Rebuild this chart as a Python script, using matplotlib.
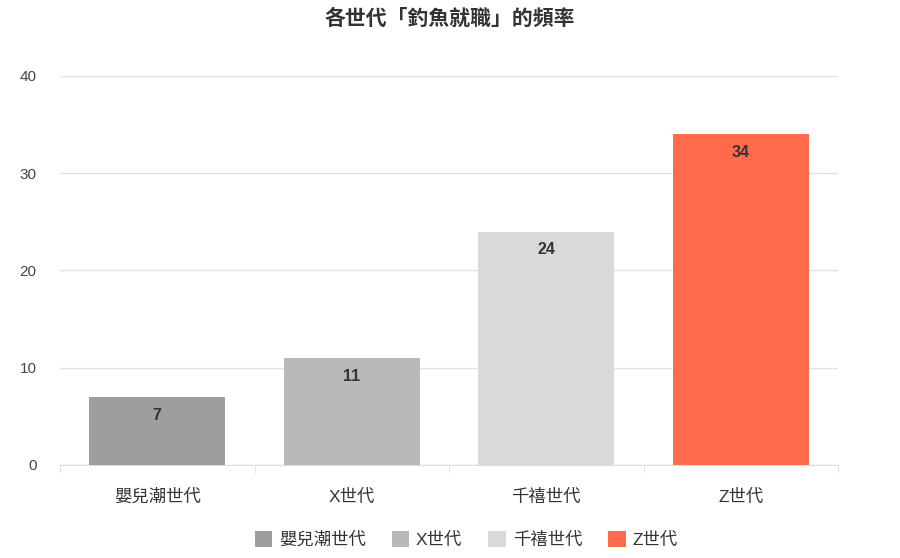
import numpy as np
import matplotlib.pyplot as plt
from matplotlib.patches import Patch

plt.rcParams['font.family'] = ['Liberation Sans', 'Noto Sans CJK TC', 'DejaVu Sans']

# data
categories = ["嬰兒潮世代", "X世代", "千禧世代", "Z世代"]
values = [7, 11, 24, 34]
colors = ["#9e9e9e", "#b9b9b9", "#d9d9d9", "#ff6b4b"]
title = "各世代「釣魚就職」的頻率"

fig = plt.figure(figsize=(9, 5.58), dpi=100)
ax = fig.add_axes([0.0667, 0.1667, 0.8644, 0.6971])

x = np.arange(len(categories))
bars = ax.bar(x, values, width=0.7, color=colors, zorder=3)

# value labels inside the bars
for xi, v in zip(x, values):
    ax.text(xi, v - 1.1, str(v), ha="center", va="top", fontsize=11.5,
            fontweight="bold", color="#333333", zorder=4)

ax.set_xlim(-0.5, len(categories) - 0.5)
ax.set_ylim(0, 40)
ax.set_yticks([0, 10, 20, 30, 40])
ax.grid(axis="y", color="#e2e2e2", linewidth=1, zorder=0)

# category ticks at boundaries
ax.set_xticks(x)
ax.set_xticklabels(categories)
ax.set_xticks(np.arange(-0.5, len(categories)), minor=True)
ax.tick_params(axis="x", which="major", length=0, pad=17, labelsize=12.5, labelcolor="#333333")
ax.tick_params(axis="x", which="minor", length=6, color="#dddddd")
ax.tick_params(axis="y", length=0, pad=17, labelsize=11, labelcolor="#444444")

for s in ["top", "right", "left"]:
    ax.spines[s].set_visible(False)
ax.spines["bottom"].set_color("#dddddd")

fig.text(0.5, 0.967, title, ha="center", va="center", fontsize=15,
         fontweight="bold", color="#333333")

handles = [Patch(facecolor=c, label=l) for c, l in zip(colors, categories)]
fig.legend(handles=handles, loc="center", bbox_to_anchor=(0.518, 0.033), ncol=4,
           frameon=False, fontsize=12.5, handlelength=1.0, handleheight=1.0,
           handletextpad=0.4, columnspacing=1.5, labelcolor="#333333")

fig.savefig("out.png", dpi=100)
plt.close()
